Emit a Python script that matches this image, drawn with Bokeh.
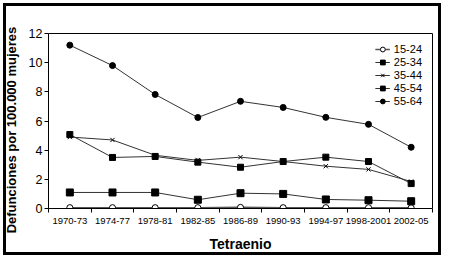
from bokeh.plotting import figure
from bokeh.models import Range1d, FixedTicker, Legend, LegendItem, LinearAxis
from bokeh.embed import file_html
from bokeh.resources import INLINE

categories = ["1970-73", "1974-77", "1978-81", "1982-85", "1986-89",
              "1990-93", "1994-97", "1998-2001", "2002-05"]
g15_24 = [0.06, 0.06, 0.06, 0.06, 0.08, 0.06, 0.06, 0.06, 0.05]
g25_34 = [1.1, 1.1, 1.1, 0.6, 1.05, 1.0, 0.62, 0.57, 0.5]
g35_44 = [4.9, 4.7, 3.65, 3.3, 3.52, 3.22, 2.9, 2.68, 1.85]
g45_54 = [5.07, 3.5, 3.57, 3.18, 2.83, 3.22, 3.52, 3.22, 1.71]
g55_64 = [11.2, 9.8, 7.82, 6.24, 7.35, 6.93, 6.25, 5.77, 4.2]
y_ticks = [0, 2, 4, 6, 8, 10, 12]

x = list(range(len(categories)))
SANS = "'Liberation Sans', Arial, sans-serif"

W, H = 444, 258
p = figure(width=W, height=H, output_backend="svg", toolbar_location=None,
           x_range=Range1d(-0.5, 8.5), y_range=Range1d(0, 12),
           min_border_left=48, min_border_right=12, min_border_top=33, min_border_bottom=50)
p.styles = {"outline": "3px solid black", "outline-offset": "-6px"}
p.border_fill_color = None
p.background_fill_color = "white"
p.outline_line_color = None
p.xgrid.visible = False
p.ygrid.visible = False

xa = p.below[0]
ya = p.left[0]

# plain axes on top and right to close the frame box
for side in ("above", "right"):
    ax = LinearAxis(major_tick_out=0, major_tick_in=0, minor_tick_out=0, minor_tick_in=0,
                    axis_line_color="black", ticker=FixedTicker(ticks=[], minor_ticks=[]))
    p.add_layout(ax, side)

xa.ticker = FixedTicker(ticks=x, minor_ticks=[i - 0.5 for i in range(len(categories) + 1)])
xa.major_label_overrides = {i: c for i, c in enumerate(categories)}
xa.major_tick_out = 0
xa.major_tick_in = 0
xa.minor_tick_out = 4
xa.minor_tick_in = 0
xa.minor_tick_line_color = "black"
xa.major_label_text_font = SANS
xa.major_label_text_font_size = "9.5px"
xa.major_label_text_color = "black"
xa.major_label_standoff = 5
xa.axis_label = "Tetraenio"
xa.axis_label_text_font = SANS
xa.axis_label_text_font_style = "bold"
xa.axis_label_text_font_size = "14px"
xa.axis_label_text_color = "black"
xa.axis_label_standoff = 9
xa.axis_line_color = "black"

ya.ticker = FixedTicker(ticks=y_ticks, minor_ticks=[])
ya.major_tick_out = 4
ya.major_tick_in = 0
ya.major_tick_line_color = "black"
ya.major_label_text_font = SANS
ya.major_label_text_font_size = "12.5px"
ya.major_label_text_color = "black"
ya.major_label_standoff = 2
ya.axis_label = "Defunciones por 100.000 mujeres" + "\u00a0" * 5
ya.axis_label_text_font = SANS
ya.axis_label_text_font_style = "bold"
ya.axis_label_text_font_size = "13px"
ya.axis_label_text_color = "black"
ya.axis_label_standoff = 7
ya.axis_line_color = "black"

LC = "#333333"
items = []
l = p.line(x, g15_24, line_color="#555555", line_width=1.5)
s = p.scatter(x, g15_24, marker="circle", size=6, fill_color="white", line_color="black", line_width=1)
items.append(LegendItem(label="15-24", renderers=[l, s]))
l = p.line(x, g25_34, line_color=LC, line_width=1)
s = p.scatter(x, g25_34, marker="square", size=7, fill_color="black", line_color="black")
items.append(LegendItem(label="25-34", renderers=[l, s]))
l = p.line(x, g35_44, line_color=LC, line_width=1)
s = p.scatter(x, g35_44, marker="x", size=6, line_color="black", line_width=1)
items.append(LegendItem(label="35-44", renderers=[l, s]))
l = p.line(x, g45_54, line_color=LC, line_width=1)
s = p.scatter(x, g45_54, marker="square", size=6, fill_color="black", line_color="black")
items.append(LegendItem(label="45-54", renderers=[l, s]))
l = p.line(x, g55_64, line_color=LC, line_width=1)
s = p.scatter(x, g55_64, marker="circle", size=6, fill_color="black", line_color="black")
items.append(LegendItem(label="55-64", renderers=[l, s]))

legend = Legend(items=items, location="top_right")
legend.border_line_color = None
legend.background_fill_alpha = 0
legend.label_text_font = SANS
legend.label_text_font_size = "11px"
legend.label_text_color = "black"
legend.label_height = 12
legend.glyph_height = 12
legend.glyph_width = 15
legend.spacing = 1
legend.padding = 0
legend.margin = 10
legend.label_standoff = 4
p.add_layout(legend)

open("out.html", "w").write(file_html(p, INLINE))
